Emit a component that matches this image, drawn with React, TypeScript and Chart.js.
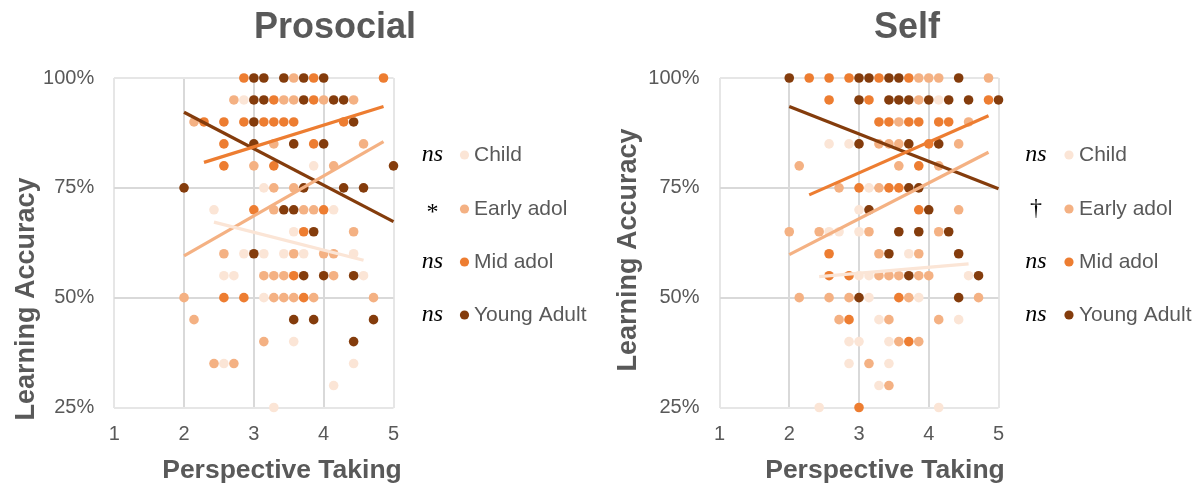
import React, { useEffect, useRef } from "react";
import { Chart, registerables } from "chart.js";

Chart.register(...registerables);

// Age-group series
const seriesNames = ["Child", "Early adol", "Mid adol", "Young Adult"];
const seriesColors = ["#FBE5D6", "#F4B183", "#ED7D31", "#843C0C"];
const prosocialSig = ["ns", "*", "ns", "ns"];
const selfSig = ["ns", "\u2020", "ns", "ns"];

// Axis ranges / ticks
const xTickValues = [1, 2, 3, 4, 5];
const yTickValues = [25, 50, 75, 100];

// ---------- Prosocial ----------
const proChildX = [2.857, 3.857, 3.143, 2.429, 4.143, 3.571, 2.857, 3.143, 3.429, 3.714, 4.429, 2.571, 2.714, 4.571, 3.143, 3.571, 2.571, 4.429, 4.143, 3.286];
const proChildY = [95, 80, 75, 70, 70, 65, 60, 60, 60, 60, 60, 55, 55, 55, 50, 40, 35, 35, 30, 25];

const proEarlyX = [3.571, 2.714, 3.429, 3.571, 4, 4.429, 2.143, 3.286, 4.571, 3, 4.143, 3.286, 3.571, 3.286, 3.714, 3.857, 4.429, 2.571, 3.571, 4, 4.143, 3.143, 3.286, 3.429, 4.143, 2, 3.286, 3.429, 3.571, 3.857, 4.714, 2.143, 3.143, 2.429, 2.714];
const proEarlyY = [100, 95, 95, 95, 95, 95, 90, 85, 85, 80, 80, 75, 75, 70, 70, 70, 65, 60, 60, 60, 60, 55, 55, 55, 55, 50, 50, 50, 50, 50, 50, 45, 40, 35, 35];

const proMidX = [2.857, 3.857, 4.857, 3.286, 3.857, 2.286, 2.571, 2.857, 3.143, 3.286, 3.429, 3.571, 4.286, 2.571, 3.857, 2.571, 3.286, 3, 4, 3.714, 3.571, 2.571, 2.857, 3.714];
const proMidY = [100, 100, 100, 95, 95, 90, 90, 90, 90, 90, 90, 90, 90, 85, 85, 80, 80, 70, 70, 65, 55, 50, 50, 50];

const proAdultX = [3, 3.143, 3.429, 3.714, 4, 3, 3.143, 3.714, 4.143, 4.286, 3, 4.429, 3, 3.571, 4, 5, 2, 3.714, 4.286, 4.571, 3.429, 3.571, 3.857, 3, 3.714, 4, 4.429, 3.571, 3.857, 4.714, 4.429];
const proAdultY = [100, 100, 100, 100, 100, 95, 95, 95, 95, 95, 90, 90, 85, 85, 85, 80, 75, 75, 75, 75, 70, 70, 65, 60, 55, 55, 55, 45, 45, 45, 40];

// Linear trend lines (start / end)
const proChildTrendX = [2.429, 4.571];
const proChildTrendY = [67.2, 58.5];
const proEarlyTrendX = [2, 4.857];
const proEarlyTrendY = [59.5, 85.5];
const proMidTrendX = [2.286, 4.857];
const proMidTrendY = [80.8, 93.5];
const proAdultTrendX = [2, 5];
const proAdultTrendY = [92.2, 67.3];

// ---------- Self ----------
const selfChildX = [4.143, 2.571, 2.857, 3.143, 3, 2.571, 2.714, 3, 3.714, 3, 3.143, 4.571, 3.143, 3.857, 3.286, 4.429, 2.857, 3, 3.429, 2.857, 3.429, 3.286, 2.429, 4.143];
const selfChildY = [95, 85, 85, 75, 70, 65, 65, 65, 60, 55, 55, 55, 50, 50, 45, 45, 40, 40, 40, 35, 35, 30, 25, 25];

const selfEarlyX = [3.857, 4, 4.143, 4.857, 3.857, 3.571, 4.571, 3.286, 3.429, 3.571, 4.429, 2.143, 3.571, 4.143, 2.714, 3.286, 4.429, 2, 2.429, 3.143, 4.143, 3.286, 3.857, 3.286, 3.429, 3.571, 3.857, 4, 2.143, 2.571, 2.857, 3.714, 4.714, 2.714, 3.429, 4.143, 3.571, 3.857, 3.143, 3.429];
const selfEarlyY = [100, 100, 100, 100, 95, 90, 90, 85, 85, 85, 85, 80, 80, 80, 75, 75, 70, 65, 65, 65, 65, 60, 60, 55, 55, 55, 55, 55, 50, 50, 50, 50, 50, 45, 45, 45, 40, 40, 35, 30];

const selfMidX = [2.286, 2.571, 2.857, 3.286, 3.714, 2.571, 3.143, 4.857, 3.286, 3.429, 3.714, 3.857, 4.143, 4.286, 4, 3.857, 3, 3.429, 3.571, 3.857, 2.571, 2.571, 2.857, 3.571, 2.857, 3.714, 3];
const selfMidY = [100, 100, 100, 100, 100, 95, 95, 95, 90, 90, 90, 90, 90, 90, 85, 80, 75, 75, 75, 70, 60, 55, 55, 50, 45, 40, 25];

const selfAdultX = [2, 3, 3.143, 3.429, 3.571, 4.429, 3, 3.429, 3.571, 3.714, 4, 4.286, 4.571, 5, 3, 3.714, 4.143, 3.714, 3.857, 3.143, 4, 3.571, 3.857, 4.286, 3.429, 4.429, 3.714, 4.714, 3, 4.429];
const selfAdultY = [100, 100, 100, 100, 100, 100, 95, 95, 95, 95, 95, 95, 95, 95, 85, 85, 85, 75, 75, 70, 70, 65, 65, 65, 60, 60, 55, 55, 50, 50];

const selfChildTrendX = [2.429, 4.571];
const selfChildTrendY = [54.8, 57.7];
const selfEarlyTrendX = [2, 4.857];
const selfEarlyTrendY = [59.8, 83.1];
const selfMidTrendX = [2.286, 4.857];
const selfMidTrendY = [73.4, 91.4];
const selfAdultTrendX = [2, 5];
const selfAdultTrendY = [93.5, 74.8];

const SANS = '"Liberation Sans", Arial, sans-serif';
const SERIF = '"Liberation Serif", "Times New Roman", serif';
const TEXT = "#595959";
const HEIGHT = 487;
const PLOT_TOP = 78;
const PLOT_BOTTOM = 407.5;
const LEGEND_ROWS = [155, 209, 262, 315];

const zip = (xs: number[], ys: number[]) => xs.map((x, i) => ({ x, y: ys[i] }));

type PanelProps = {
  left: number;
  width: number;
  title: string;
  titleX: number;
  plotLeft: number;
  plotRight: number;
  yTitleX: number;
  yTitleY: number;
  xTitleX: number;
  sigs: string[];
  sigX: number;
  dotX: number;
  labelX: number;
  points: [number[], number[]][];
  trends: [number[], number[]][];
};

function Panel(p: PanelProps) {
  const ref = useRef<HTMLCanvasElement | null>(null);

  useEffect(() => {
    if (!ref.current) return;

    const gridColor = (ctx: any) => {
      const v = ctx.tick ? ctx.tick.value : null;
      const s = ctx.scale;
      return v === s.min || v === s.max ? "#e6e6e6" : "#d9d9d9";
    };

    const textPlugin = {
      id: "panelText",
      afterDraw(chart: any) {
        const c = chart.ctx as CanvasRenderingContext2D;
        c.save();
        c.fillStyle = TEXT;
        c.textAlign = "center";
        c.textBaseline = "middle";
        c.font = `bold 36px ${SANS}`;
        c.fillText(p.title, p.titleX, 28);
        c.font = `bold 26.5px ${SANS}`;
        c.fillText("Perspective Taking", p.xTitleX, 471);
        c.save();
        c.translate(p.yTitleX, p.yTitleY);
        c.rotate(-Math.PI / 2);
        c.font = `bold 27px ${SANS}`;
        c.fillText("Learning Accuracy", 0, 0);
        c.restore();

        seriesNames.forEach((name, i) => {
          const y = LEGEND_ROWS[i];
          const sig = p.sigs[i];
          c.fillStyle = "#000000";
          c.textAlign = "center";
          c.font = sig === "ns" ? `italic 24px ${SERIF}` : `24px ${SERIF}`;
          c.fillText(sig, p.sigX, sig === "*" ? y + 4 : y);
          c.fillStyle = seriesColors[i];
          c.beginPath();
          c.arc(p.dotX, y, 4.6, 0, Math.PI * 2);
          c.fill();
          c.fillStyle = TEXT;
          c.textAlign = "left";
          c.font = `21px ${SANS}`;
          c.fillText(name, p.labelX, y);
        });
        c.restore();
      },
    };

    const trendSets = p.trends.map(([xs, ys], i) => ({
      type: "line" as const,
      data: zip(xs, ys),
      borderColor: seriesColors[i],
      borderWidth: 3.2,
      pointRadius: 0,
      fill: false,
      showLine: true,
      order: 0,
      clip: false as any,
    }));

    const pointSets = p.points.map(([xs, ys], i) => ({
      type: "scatter" as const,
      data: zip(xs, ys),
      backgroundColor: seriesColors[i],
      borderWidth: 0,
      pointRadius: 4.8,
      pointHoverRadius: 4.8,
      order: 4 - i,
      clip: false as any,
    }));

    const chart = new Chart(ref.current, {
      type: "scatter",
      data: { datasets: [...trendSets, ...pointSets] as any },
      options: {
        animation: false,
        responsive: false,
        devicePixelRatio: 1,
        events: [],
        layout: {
          padding: { left: 0, right: p.width - p.plotRight, top: PLOT_TOP, bottom: 0 },
        },
        plugins: {
          legend: { display: false },
          tooltip: { enabled: false },
          title: { display: false },
        },
        scales: {
          x: {
            type: "linear",
            min: xTickValues[0],
            max: xTickValues[xTickValues.length - 1],
            afterBuildTicks: (s: any) => {
              s.ticks = xTickValues.map((v) => ({ value: v }));
            },
            ticks: {
              color: TEXT,
              font: { family: SANS, size: 20 },
              padding: 15,
              maxRotation: 0,
              autoSkip: false,
            },
            grid: { color: gridColor, lineWidth: 2, drawTicks: false },
            border: { display: false },
            afterFit: (s: any) => {
              s.height = HEIGHT - PLOT_BOTTOM;
            },
          },
          y: {
            type: "linear",
            min: yTickValues[0],
            max: yTickValues[yTickValues.length - 1],
            afterBuildTicks: (s: any) => {
              s.ticks = yTickValues.map((v) => ({ value: v }));
            },
            ticks: {
              color: TEXT,
              font: { family: SANS, size: 20 },
              padding: 20,
              callback: (v: any) => `${v}%`,
            },
            grid: { color: gridColor, lineWidth: 2, drawTicks: false },
            border: { display: false },
            afterFit: (s: any) => {
              s.width = p.plotLeft;
            },
          },
        },
      },
      plugins: [textPlugin],
    });

    return () => chart.destroy();
  }, []);

  return (
    <canvas
      ref={ref}
      width={p.width}
      height={HEIGHT}
      style={{ position: "absolute", left: p.left, top: 0, width: p.width, height: HEIGHT }}
    />
  );
}

export default function App() {
  return (
    <div style={{ position: "absolute", left: 0, top: 0, width: 1203, height: HEIGHT, background: "#ffffff" }}>
      <Panel
        left={0}
        width={600}
        title="Prosocial"
        titleX={335}
        plotLeft={114.2}
        plotRight={393.5}
        yTitleX={27}
        yTitleY={299}
        xTitleX={282}
        sigs={prosocialSig}
        sigX={432.5}
        dotX={464.5}
        labelX={474}
        points={[
          [proChildX, proChildY],
          [proEarlyX, proEarlyY],
          [proMidX, proMidY],
          [proAdultX, proAdultY],
        ]}
        trends={[
          [proChildTrendX, proChildTrendY],
          [proEarlyTrendX, proEarlyTrendY],
          [proMidTrendX, proMidTrendY],
          [proAdultTrendX, proAdultTrendY],
        ]}
      />
      <Panel
        left={600}
        width={603}
        title="Self"
        titleX={307}
        plotLeft={119.5}
        plotRight={398.5}
        yTitleX={29}
        yTitleY={250}
        xTitleX={285}
        sigs={selfSig}
        sigX={436}
        dotX={469}
        labelX={479}
        points={[
          [selfChildX, selfChildY],
          [selfEarlyX, selfEarlyY],
          [selfMidX, selfMidY],
          [selfAdultX, selfAdultY],
        ]}
        trends={[
          [selfChildTrendX, selfChildTrendY],
          [selfEarlyTrendX, selfEarlyTrendY],
          [selfMidTrendX, selfMidTrendY],
          [selfAdultTrendX, selfAdultTrendY],
        ]}
      />
    </div>
  );
}
